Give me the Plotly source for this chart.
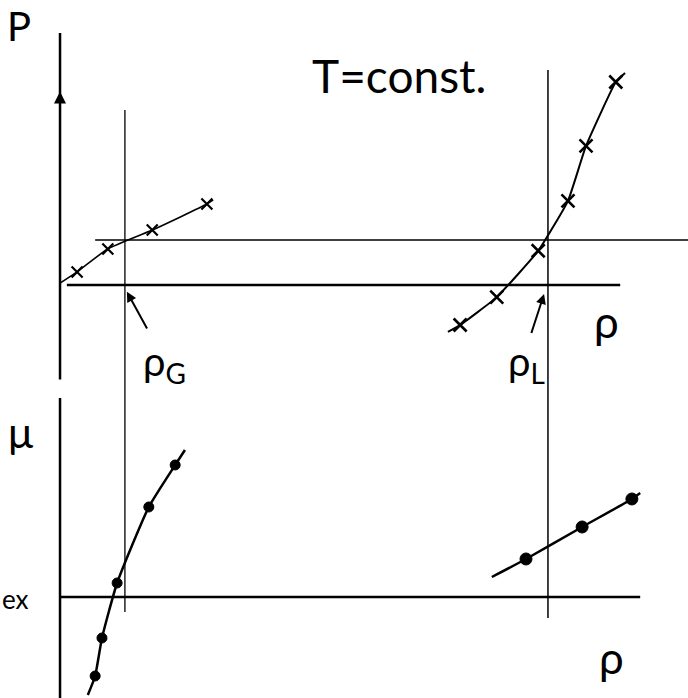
import plotly.graph_objects as go
from plotly.subplots import make_subplots

# Coexistence sketch: pressure P(rho) and chemical potential mu(rho) at fixed T.
# rho is scaled so that rho_L = 1; P and mu are in arbitrary units.
RHO_G = 0.133
RHO_L = 1.0
P_SAT = 1.0
MU_EX = 0.0

# gas branch of P(rho)
gas_p_rho = [0.035, 0.098, 0.189, 0.301]
gas_p_val = [0.29, 0.80, 1.22, 1.80]
gas_p_line_rho = [0.0, 0.035, 0.098, 0.189, 0.301, 0.314]
gas_p_line_val = [0.04, 0.29, 0.80, 1.22, 1.80, 1.89]

# liquid branch of P(rho)
liq_p_rho = [0.820, 0.895, 0.980, 1.041, 1.078, 1.139]
liq_p_val = [-0.89, -0.27, 0.76, 1.87, 3.09, 4.51]
liq_p_line_rho = [0.795, 0.820, 0.895, 0.980, 1.041, 1.078, 1.139, 1.158]
liq_p_line_val = [-1.04, -0.89, -0.27, 0.76, 1.87, 3.09, 4.51, 4.71]

# gas branch of mu(rho)
gas_mu_rho = [0.072, 0.086, 0.117, 0.182, 0.236]
gas_mu_val = [-1.58, -0.82, 0.28, 1.80, 2.64]
gas_mu_line_rho = [0.057, 0.072, 0.086, 0.117, 0.182, 0.236, 0.256]
gas_mu_line_val = [-1.96, -1.58, -0.82, 0.28, 1.80, 2.64, 2.94]

# liquid branch of mu(rho)
liq_mu_rho = [0.955, 1.070, 1.172]
liq_mu_val = [0.76, 1.40, 1.96]
liq_mu_line_rho = [0.885, 0.955, 1.070, 1.172, 1.189]
liq_mu_line_val = [0.40, 0.76, 1.40, 1.96, 2.08]

X_RANGE = [-0.123, 1.287]
P_RANGE = [-2.333, 6.333]
MU_RANGE = [-2.02, 4.14]
SPLIT = 0.4413

INK = "black"
HAND = "Lato, sans-serif"

fig = make_subplots(rows=2, cols=1, vertical_spacing=0)


def curve(rho, val, row, width=2, smooth=0.5):
    fig.add_trace(go.Scatter(x=rho, y=val, mode="lines",
                             line=dict(color=INK, width=width, shape="spline", smoothing=smooth),
                             hoverinfo="skip", showlegend=False), row=row, col=1)


def dots(rho, val, row, symbol, size, lw=2):
    fig.add_trace(go.Scatter(x=rho, y=val, mode="markers",
                             marker=dict(symbol=symbol, size=size, color=INK, line=dict(color=INK, width=lw)),
                             hoverinfo="skip", showlegend=False), row=row, col=1)


# P(rho)
curve(gas_p_line_rho, gas_p_line_val, 1, 1.6, 0.6)
dots(gas_p_rho, gas_p_val, 1, "x-thin", 11, 2.2)
curve(liq_p_line_rho, liq_p_line_val, 1, 2, 0.4)
dots(liq_p_rho, liq_p_val, 1, "x-thin", 13, 2.6)

# mu(rho)
curve(gas_mu_line_rho, gas_mu_line_val, 2, 2.5, 0.5)
dots(gas_mu_rho, gas_mu_val, 2, "circle", 10, 1)
curve(liq_mu_line_rho, liq_mu_line_val, 2, 2.5, 0.5)
dots(liq_mu_rho, liq_mu_val, 2, "circle", 12, 1)


def seg(x0, y0, x1, y1, row, width):
    ax = "" if row == 1 else "2"
    fig.add_shape(type="line", x0=x0, y0=y0, x1=x1, y1=y1, xref="x" + ax, yref="y" + ax,
                  line=dict(color=INK, width=width), layer="below")


# top panel frame lines
seg(0, -2.1, 0, 5.6, 1, 2.5)             # P axis
seg(0.014, 0.0, 1.148, 0.0, 1, 2.5)      # rho axis
seg(0.072, P_SAT, X_RANGE[1], P_SAT, 1, 1.3)   # saturation pressure
seg(RHO_G, 3.89, RHO_G, P_RANGE[0], 1, 1.3)
seg(RHO_L, 4.78, RHO_L, P_RANGE[0], 1, 1.5)

# bottom panel frame lines
seg(0, MU_RANGE[1] - 0.16, 0, MU_RANGE[0], 2, 2.5)
seg(0, MU_EX, 1.189, MU_EX, 2, 2.5)
seg(RHO_G, MU_RANGE[1], RHO_G, -0.3, 2, 1.3)
seg(RHO_L, MU_RANGE[1], RHO_L, -0.42, 2, 1.5)

# arrowhead on the P axis
fig.add_annotation(x=0, y=4.3, ax=0, ay=3.7, xref="x", yref="y", axref="x", ayref="y",
                   text="", showarrow=True, arrowhead=2, arrowsize=1.2, arrowwidth=2, arrowcolor=INK)
# arrows to rho_G and rho_L
fig.add_annotation(x=RHO_G + 0.004, y=-0.15, ax=RHO_G + 0.047, ay=-1.0, xref="x", yref="y", axref="x", ayref="y",
                   text="", showarrow=True, arrowhead=2, arrowsize=1, arrowwidth=2, arrowcolor=INK)
fig.add_annotation(x=RHO_L - 0.008, y=-0.2, ax=RHO_L - 0.035, ay=-1.1, xref="x", yref="y", axref="x", ayref="y",
                   text="", showarrow=True, arrowhead=2, arrowsize=1, arrowwidth=2, arrowcolor=INK)


def label(txt, x, y, ref, size, anchor="center"):
    fig.add_annotation(x=x, y=y, xref="x" + ref, yref="y" + ref, text=txt, showarrow=False,
                       font=dict(family=HAND, size=size, color=INK), xanchor=anchor)


label("P", -0.085, 5.75, "", 40)
label("T=const.", 0.695, 4.65, "", 46)
label("ρ", 1.12, -0.8, "", 44)
label("ρ<sub>G</sub>", 0.215, -1.75, "", 40)
label("ρ<sub>L</sub>", 0.955, -1.75, "", 40)
label("μ", -0.08, 3.3, "2", 42)
label("ex", -0.123, -0.05, "2", 26, "left")
label("ρ", 1.13, -1.2, "2", 44)

fig.update_xaxes(range=X_RANGE, visible=False)
fig.update_yaxes(visible=False)
fig.update_yaxes(range=P_RANGE, row=1, col=1)
fig.update_yaxes(range=MU_RANGE, row=2, col=1)
fig.update_layout(
    width=688, height=698,
    margin=dict(l=0, r=0, t=0, b=0),
    paper_bgcolor="white", plot_bgcolor="white",
    showlegend=False,
    yaxis=dict(domain=[SPLIT, 1.0]),
    yaxis2=dict(domain=[0.0, SPLIT]),
)

fig.write_html("out.html")
